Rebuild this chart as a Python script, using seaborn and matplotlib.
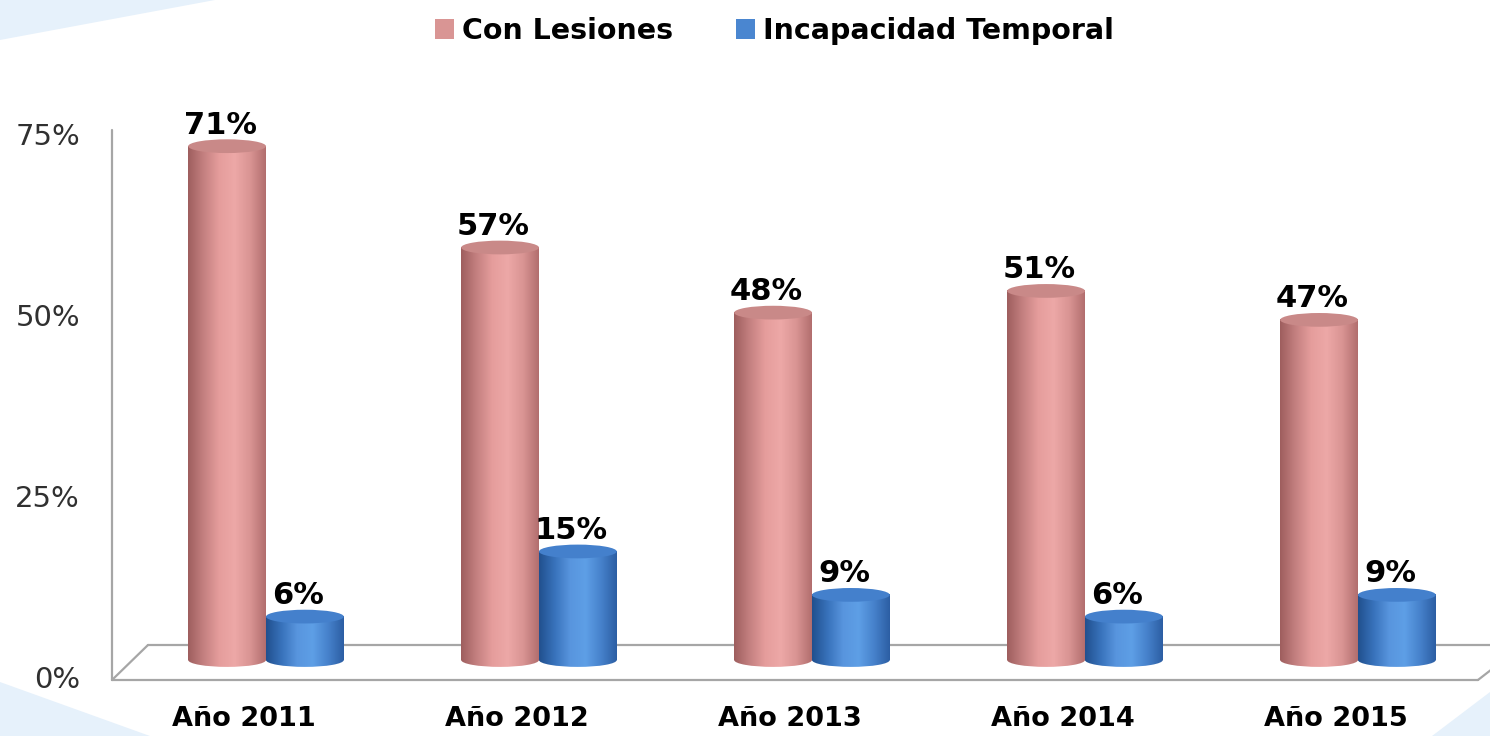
import numpy as np
import pandas as pd
import seaborn as sns
import matplotlib.pyplot as plt
import matplotlib.transforms as mtransforms
from matplotlib.patches import Ellipse, Polygon
from matplotlib.lines import Line2D
from matplotlib.colors import LinearSegmentedColormap

# datos
years = ['Año 2011', 'Año 2012', 'Año 2013', 'Año 2014', 'Año 2015']
series = ['Con Lesiones', 'Incapacidad Temporal']
con_lesiones = [71, 57, 48, 51, 47]
incapacidad = [6, 15, 9, 6, 9]
yticks = [0, 25, 50, 75]
ytick_labels = ['0%', '25%', '50%', '75%']

df = pd.DataFrame({
    'year': years * 2,
    'serie': [series[0]] * len(years) + [series[1]] * len(years),
    'value': con_lesiones + incapacidad,
})

sns.set_style('white')
plt.rcParams['font.family'] = ['DejaVu Sans']
plt.rcParams['text.color'] = 'black'

W, H = 1490, 736
fig = plt.figure(figsize=(W / 100, H / 100), dpi=100)
fig.patch.set_facecolor('white')

# decoracion azul clara en las esquinas
deco = '#E6F1FB'
for pts in ([(0, 0), (215, 0), (0, 40)],
            [(0, 682), (150, 736), (0, 736)],
            [(1490, 692), (1490, 736), (1432, 736)]):
    fig.patches.append(Polygon([(x / W, 1 - y / H) for x, y in pts], closed=True,
                               transform=fig.transFigure, facecolor=deco,
                               edgecolor='none', zorder=0))

ax = fig.add_axes([112 / W, 56 / H, 1368 / W, 570 / H])
ax.patch.set_visible(False)

palette = {series[0]: '#D99594', series[1]: '#4A86D0'}
sns.barplot(data=df, x='year', y='value', hue='serie', palette=palette,
            width=0.57, gap=0, errorbar=None, saturation=1, linewidth=0,
            ax=ax)

cmaps = [
    LinearSegmentedColormap.from_list('rosa', ['#9E5E5E', '#C48080', '#E59D9C', '#EDA8A7', '#D99493', '#B26E6E']),
    LinearSegmentedColormap.from_list('azul', ['#21508E', '#3872BB', '#5895DE', '#5E9FE6', '#4681CB', '#2C5EA3']),
]
tops = ['#C98988', '#4480CC']
eh = 1.9  # alto de la elipse (cilindro)
grad = np.linspace(0, 1, 256).reshape(1, -1)

for i, cont in enumerate(ax.containers):
    z = 2 + i
    for bar in cont:
        x0, w, h = bar.get_x(), bar.get_width(), bar.get_height()
        cx = x0 + w / 2
        bar.set_alpha(0)
        ax.imshow(grad, cmap=cmaps[i], extent=(x0, x0 + w, 0, h),
                  aspect='auto', zorder=z, interpolation='bilinear')
        base = Ellipse((cx, 0), w, eh, facecolor='none', edgecolor='none')
        ax.add_patch(base)
        im = ax.imshow(grad, cmap=cmaps[i], extent=(x0, x0 + w, -eh / 2, 0),
                       aspect='auto', zorder=z, interpolation='bilinear')
        im.set_clip_path(base)
        ax.add_patch(Ellipse((cx, h), w, eh, facecolor=tops[i],
                             edgecolor='none', zorder=z + 0.5))
        ax.annotate(f'{h:.0f}%', xy=(cx, h), xytext=(-5, 9),
                    textcoords='offset points', ha='center', va='baseline',
                    fontsize=22, fontweight='bold', color='black', zorder=10)

ax.set_xlim(-0.564, 4.447)
ax.set_ylim(-2.76, 76)
ax.set_xlabel('')
ax.set_ylabel('')
for s in ax.spines.values():
    s.set_visible(False)

ax.set_yticks(yticks)
ax.set_yticklabels(ytick_labels)
ax.tick_params(axis='y', length=0, pad=23, labelsize=21, labelcolor='#303030')
ax.tick_params(axis='x', length=0, pad=19, labelsize=19.5, labelcolor='black')
for lbl in ax.get_yticklabels():
    lbl.set_transform(lbl.get_transform() + mtransforms.ScaledTranslation(0, -17 / 100, fig.dpi_scale_trans))
for lbl in ax.get_xticklabels():
    lbl.set_fontweight('bold')
    lbl.set_transform(lbl.get_transform() + mtransforms.ScaledTranslation(-22 / 100, 0, fig.dpi_scale_trans))

# suelo y eje en perspectiva
gris = '#A6A6A6'
for xs, ys in (([0, 0], [0, 0.965]),
               ([0, 0.9985], [0, 0]),
               ([0, 0.0263], [0, 0.0614]),
               ([0.0263, 1.02], [0.0614, 0.0614]),
               ([0.9985, 1.02], [0, 0.04])):
    ax.add_line(Line2D(xs, ys, transform=ax.transAxes, color=gris, lw=1.6,
                       clip_on=False, zorder=1))

handles, labels = ax.get_legend_handles_labels()
ax.get_legend().remove()
fig.legend(handles, labels, loc='center', bbox_to_anchor=(0.52, 1 - 31 / H),
           ncol=2, frameon=False, prop={'weight': 'bold', 'size': 20.5},
           labelcolor='black', handlelength=0.65, handleheight=0.65,
           handletextpad=0.3, columnspacing=2.2)

fig.savefig('out.png', dpi=100)
